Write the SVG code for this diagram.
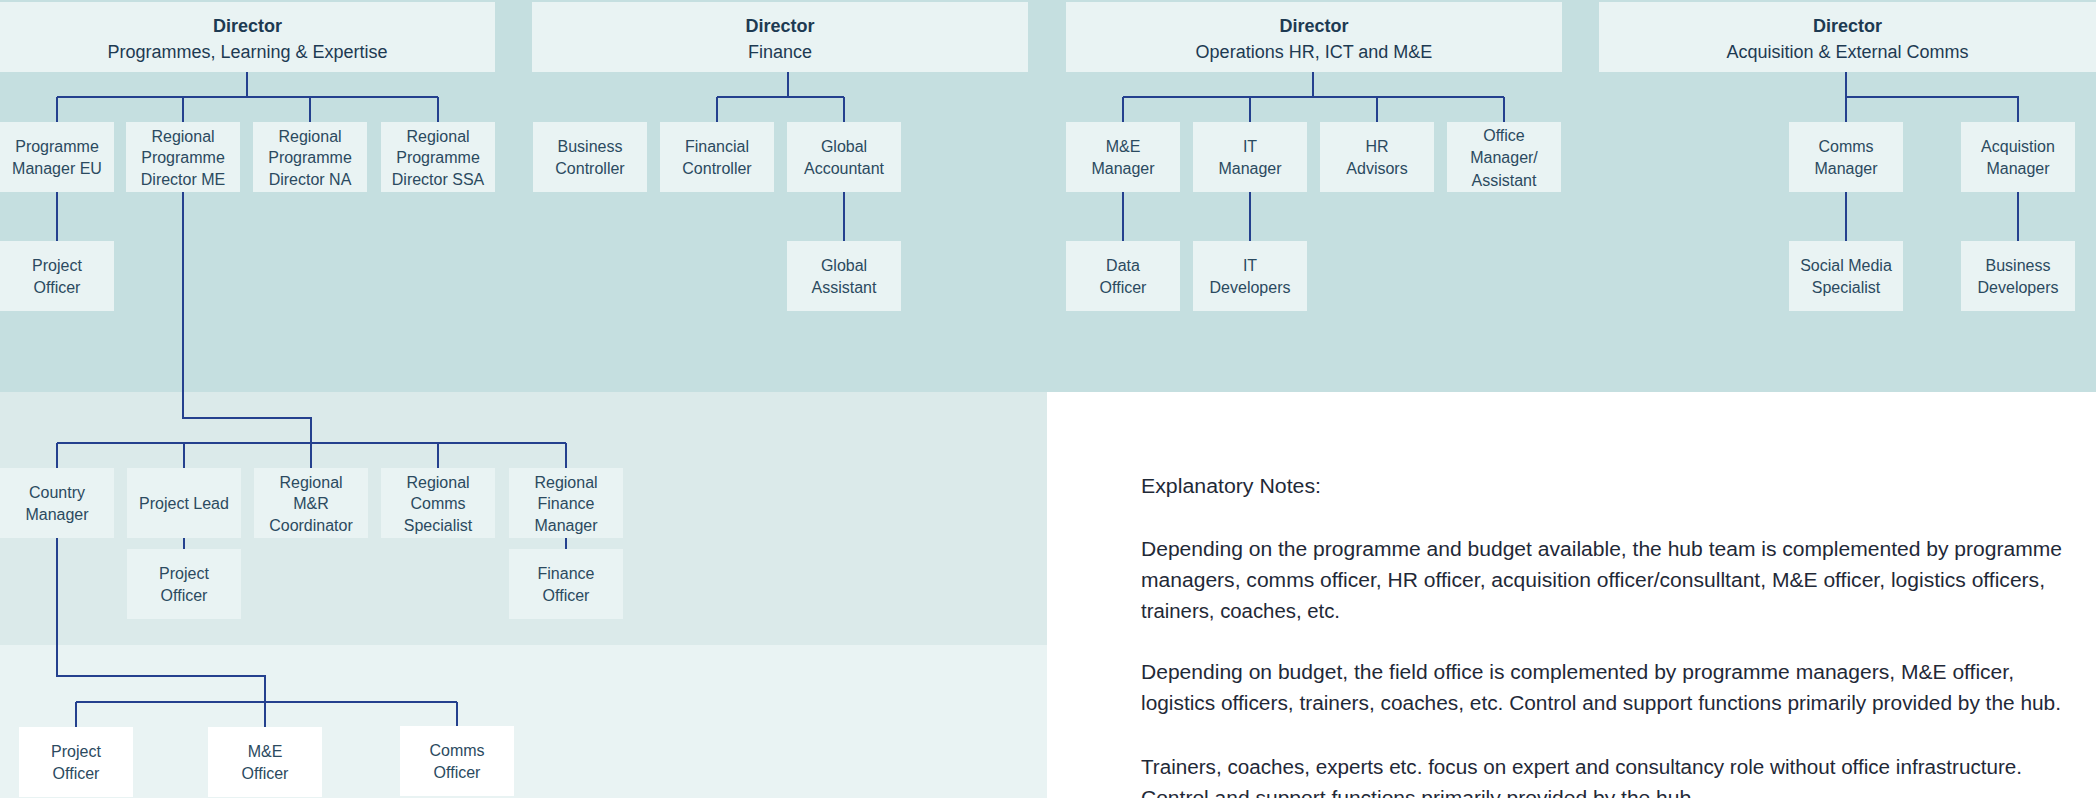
<svg xmlns="http://www.w3.org/2000/svg" width="2096" height="798" viewBox="0 0 2096 798">
<style>
.box{fill:#e9f3f3}
.wbox{fill:#ffffff}
.t{font-family:"Liberation Sans",Arial,sans-serif;font-size:16px;fill:#2b4a60;text-anchor:middle}
.dt{font-family:"Liberation Sans",Arial,sans-serif;font-size:18px;fill:#1d3a52;text-anchor:middle}
.db{font-weight:bold}
.n{font-family:"Liberation Sans",Arial,sans-serif;font-size:20px;fill:#1f2937}
.c{fill:none;stroke:#24408e;stroke-width:2}
</style>
<rect x="0" y="0" width="2096" height="798" fill="#ffffff"/>
<rect x="0" y="0" width="2096" height="392" fill="#c5dfe0"/>
<rect x="0" y="392" width="1047" height="253" fill="#dbeaea"/>
<rect x="0" y="645" width="1047" height="153" fill="#e9f3f3"/>

<g id="connectors" class="c">
<path d="M247,72V97M57,97H438M57,97V122M183,97V122M310,97V122M438,97V122"/>
<path d="M57,192V241"/>
<path d="M183,192V418H311V468M57,443H566M57,443V468M184,443V468M438,443V468M566,443V468"/>
<path d="M184,538V549M566,538V549"/>
<path d="M57,538V676H265V727M76,702H457M76,702V727M457,702V727"/>
<path d="M788,72V97M717,97H844M717,97V122M844,97V122M844,192V241"/>
<path d="M1313,72V97M1123,97H1504M1123,97V122M1250,97V122M1377,97V122M1504,97V122M1123,192V241M1250,192V241"/>
<path d="M1846,72V122M1846,97H2018V122M1846,192V241M2018,192V241"/>
</g>

<g id="dir-ple"><rect class="box" x="0" y="2" width="495" height="70"/><text class="dt db" x="247.5" y="32">Director</text><text class="dt" x="247.5" y="58">Programmes, Learning &amp; Expertise</text></g>
<g id="dir-fin"><rect class="box" x="532" y="2" width="496" height="70"/><text class="dt db" x="780" y="32">Director</text><text class="dt" x="780" y="58">Finance</text></g>
<g id="dir-ops"><rect class="box" x="1066" y="2" width="496" height="70"/><text class="dt db" x="1314" y="32">Director</text><text class="dt" x="1314" y="58">Operations HR, ICT and M&amp;E</text></g>
<g id="dir-acq"><rect class="box" x="1599" y="2" width="497" height="70"/><text class="dt db" x="1847.5" y="32">Director</text><text class="dt" x="1847.5" y="58">Acquisition &amp; External Comms</text></g>

<g id="pm-eu"><rect class="box" x="0" y="122" width="114" height="70"/><text class="t" x="57" y="151.5">Programme</text><text class="t" x="57" y="173.5">Manager EU</text></g>
<g id="rpd-me"><rect class="box" x="126" y="122" width="114" height="70"/><text class="t" x="183" y="141.5">Regional</text><text class="t" x="183" y="163">Programme</text><text class="t" x="183" y="184.5">Director ME</text></g>
<g id="rpd-na"><rect class="box" x="253" y="122" width="114" height="70"/><text class="t" x="310" y="141.5">Regional</text><text class="t" x="310" y="163">Programme</text><text class="t" x="310" y="184.5">Director NA</text></g>
<g id="rpd-ssa"><rect class="box" x="381" y="122" width="114" height="70"/><text class="t" x="438" y="141.5">Regional</text><text class="t" x="438" y="163">Programme</text><text class="t" x="438" y="184.5">Director SSA</text></g>
<g id="po-eu"><rect class="box" x="0" y="241" width="114" height="70"/><text class="t" x="57" y="270.5">Project</text><text class="t" x="57" y="292.5">Officer</text></g>

<g id="bus-ctrl"><rect class="box" x="533" y="122" width="114" height="70"/><text class="t" x="590" y="151.5">Business</text><text class="t" x="590" y="173.5">Controller</text></g>
<g id="fin-ctrl"><rect class="box" x="660" y="122" width="114" height="70"/><text class="t" x="717" y="151.5">Financial</text><text class="t" x="717" y="173.5">Controller</text></g>
<g id="glob-acc"><rect class="box" x="787" y="122" width="114" height="70"/><text class="t" x="844" y="151.5">Global</text><text class="t" x="844" y="173.5">Accountant</text></g>
<g id="glob-ass"><rect class="box" x="787" y="241" width="114" height="70"/><text class="t" x="844" y="270.5">Global</text><text class="t" x="844" y="292.5">Assistant</text></g>

<g id="me-mgr"><rect class="box" x="1066" y="122" width="114" height="70"/><text class="t" x="1123" y="151.5">M&amp;E</text><text class="t" x="1123" y="173.5">Manager</text></g>
<g id="it-mgr"><rect class="box" x="1193" y="122" width="114" height="70"/><text class="t" x="1250" y="151.5">IT</text><text class="t" x="1250" y="173.5">Manager</text></g>
<g id="hr-adv"><rect class="box" x="1320" y="122" width="114" height="70"/><text class="t" x="1377" y="151.5">HR</text><text class="t" x="1377" y="173.5">Advisors</text></g>
<g id="office-mgr"><rect class="box" x="1447" y="122" width="114" height="70"/><text class="t" x="1504" y="141">Office</text><text class="t" x="1504" y="163">Manager/</text><text class="t" x="1504" y="185.5">Assistant</text></g>
<g id="data-off"><rect class="box" x="1066" y="241" width="114" height="70"/><text class="t" x="1123" y="270.5">Data</text><text class="t" x="1123" y="292.5">Officer</text></g>
<g id="it-dev"><rect class="box" x="1193" y="241" width="114" height="70"/><text class="t" x="1250" y="270.5">IT</text><text class="t" x="1250" y="292.5">Developers</text></g>

<g id="comms-mgr"><rect class="box" x="1789" y="122" width="114" height="70"/><text class="t" x="1846" y="151.5">Comms</text><text class="t" x="1846" y="173.5">Manager</text></g>
<g id="acq-mgr"><rect class="box" x="1961" y="122" width="114" height="70"/><text class="t" x="2018" y="151.5">Acquistion</text><text class="t" x="2018" y="173.5">Manager</text></g>
<g id="smm"><rect class="box" x="1789" y="241" width="114" height="70"/><text class="t" x="1846" y="270.5">Social Media</text><text class="t" x="1846" y="292.5">Specialist</text></g>
<g id="bus-dev"><rect class="box" x="1961" y="241" width="114" height="70"/><text class="t" x="2018" y="270.5">Business</text><text class="t" x="2018" y="292.5">Developers</text></g>

<g id="country-mgr"><rect class="box" x="0" y="468" width="114" height="70"/><text class="t" x="57" y="497.5">Country</text><text class="t" x="57" y="519.5">Manager</text></g>
<g id="proj-lead"><rect class="box" x="127" y="468" width="114" height="70"/><text class="t" x="184" y="508.5">Project Lead</text></g>
<g id="reg-mr"><rect class="box" x="254" y="468" width="114" height="70"/><text class="t" x="311" y="487.5">Regional</text><text class="t" x="311" y="509">M&amp;R</text><text class="t" x="311" y="530.5">Coordinator</text></g>
<g id="reg-comms"><rect class="box" x="381" y="468" width="114" height="70"/><text class="t" x="438" y="487.5">Regional</text><text class="t" x="438" y="509">Comms</text><text class="t" x="438" y="530.5">Specialist</text></g>
<g id="reg-fin"><rect class="box" x="509" y="468" width="114" height="70"/><text class="t" x="566" y="487.5">Regional</text><text class="t" x="566" y="509">Finance</text><text class="t" x="566" y="530.5">Manager</text></g>
<g id="po-reg"><rect class="box" x="127" y="549" width="114" height="70"/><text class="t" x="184" y="578.5">Project</text><text class="t" x="184" y="600.5">Officer</text></g>
<g id="fin-off"><rect class="box" x="509" y="549" width="114" height="70"/><text class="t" x="566" y="578.5">Finance</text><text class="t" x="566" y="600.5">Officer</text></g>

<g id="po-field"><rect class="wbox" x="19" y="727" width="114" height="70"/><text class="t" x="76" y="756.5">Project</text><text class="t" x="76" y="778.5">Officer</text></g>
<g id="me-off"><rect class="wbox" x="208" y="727" width="114" height="70"/><text class="t" x="265" y="756.5">M&amp;E</text><text class="t" x="265" y="778.5">Officer</text></g>
<g id="comms-off"><rect class="wbox" x="400" y="726" width="114" height="70"/><text class="t" x="457" y="755.5">Comms</text><text class="t" x="457" y="777.5">Officer</text></g>

<g id="notes">
<text class="n" x="1141" y="493" textLength="180" lengthAdjust="spacingAndGlyphs">Explanatory Notes:</text>
<text class="n" x="1141" y="556" textLength="921" lengthAdjust="spacingAndGlyphs">Depending on the programme and budget available, the hub team is complemented by programme</text>
<text class="n" x="1141" y="587" textLength="904" lengthAdjust="spacingAndGlyphs">managers, comms officer, HR officer, acquisition officer/consulltant, M&amp;E officer, logistics officers,</text>
<text class="n" x="1141" y="618" textLength="199" lengthAdjust="spacingAndGlyphs">trainers, coaches, etc.</text>
<text class="n" x="1141" y="679" textLength="873" lengthAdjust="spacingAndGlyphs">Depending on budget, the field office is complemented by programme managers, M&amp;E officer,</text>
<text class="n" x="1141" y="710" textLength="920" lengthAdjust="spacingAndGlyphs">logistics officers, trainers, coaches, etc. Control and support functions primarily provided by the hub.</text>
<text class="n" x="1141" y="774" textLength="881" lengthAdjust="spacingAndGlyphs">Trainers, coaches, experts etc. focus on expert and consultancy role without office infrastructure.</text>
<text class="n" x="1141" y="805" textLength="556" lengthAdjust="spacingAndGlyphs">Control and support functions primarily provided by the hub.</text>
</g>
</svg>
